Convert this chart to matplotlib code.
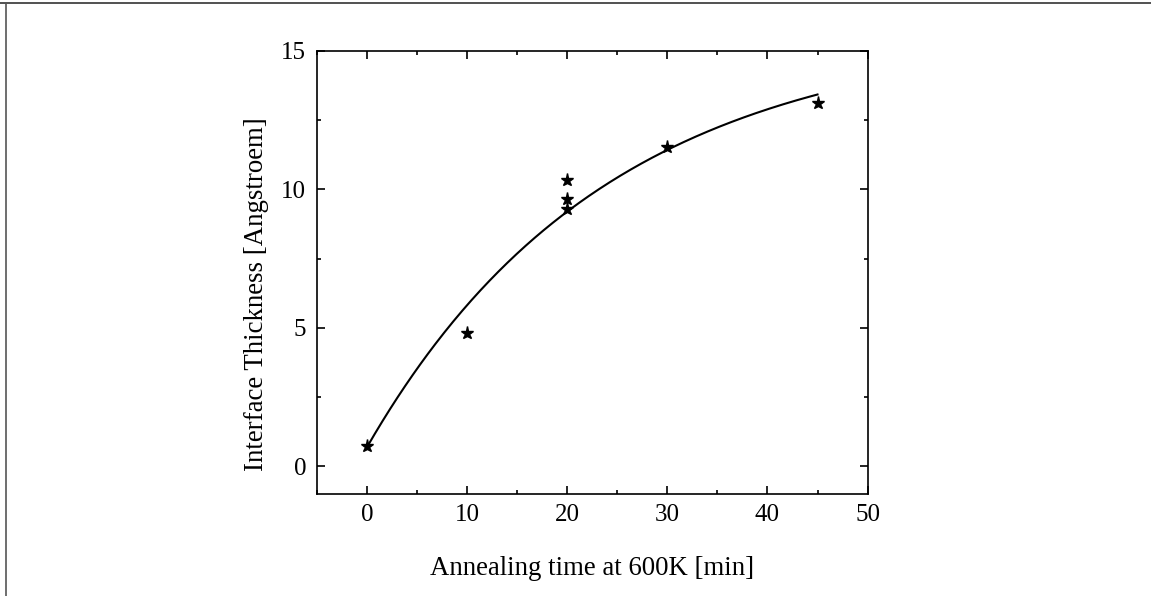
import numpy as np
import matplotlib
matplotlib.use("Agg")
import matplotlib.pyplot as plt
from matplotlib.lines import Line2D
from matplotlib.ticker import MultipleLocator

plt.rcParams['font.family'] = ['Liberation Serif', 'DejaVu Serif']

# Measured interface thickness after annealing
anneal_time = [0, 10, 20, 20, 20, 30, 45]
thickness = [0.72, 4.8, 10.35, 9.65, 9.3, 11.52, 13.1]

# Exponential saturation fit: d(t) = d0 + d_inf * (1 - exp(-t / tau))
fit_d0 = 0.72
fit_amp = 15.0
fit_tau = 24.0
fit_range = (0, 45)

fig = plt.figure(figsize=(11.51, 5.96), dpi=100)
ax = fig.add_axes([0.2758, 0.1711, 0.7537 - 0.2758, 0.9149 - 0.1711])

t_fit = np.linspace(fit_range[0], fit_range[1], 300)
d_fit = fit_d0 + fit_amp * (1 - np.exp(-t_fit / fit_tau))
ax.plot(t_fit, d_fit, color='black', lw=1.5, zorder=2)
ax.plot(anneal_time, thickness, linestyle='none', marker='*', color='black',
        markersize=9.5, zorder=3)

ax.set_xlim(-5, 50)
ax.set_ylim(-1, 15)
ax.xaxis.set_major_locator(MultipleLocator(10))
ax.xaxis.set_minor_locator(MultipleLocator(5))
ax.yaxis.set_major_locator(MultipleLocator(5))
ax.yaxis.set_minor_locator(MultipleLocator(2.5))
ax.tick_params(which='both', direction='in', top=True, right=True, width=1.2,
               labelsize=18)
ax.tick_params(which='major', length=6)
ax.tick_params(which='minor', length=3)
ax.tick_params(axis='x', which='major', pad=7)
ax.tick_params(axis='y', which='major', pad=8)
for sp in ax.spines.values():
    sp.set_linewidth(1.2)

ax.set_xlabel('Annealing time at 600K [min]', fontsize=19.3, labelpad=22)
ax.set_ylabel('Interface Thickness [Angstroem]', fontsize=19.3)
ax.yaxis.set_label_coords(-0.088, 0.451)

# Frame lines along the top and left edges
fig.add_artist(Line2D([0, 1], [1 - 3.3 / 596] * 2, transform=fig.transFigure,
                      color='#222222', lw=1.1))
fig.add_artist(Line2D([5.7 / 1151] * 2, [0, 1 - 3.3 / 596], transform=fig.transFigure,
                      color='#555555', lw=1.2))

fig.savefig('out.png', dpi=100)
